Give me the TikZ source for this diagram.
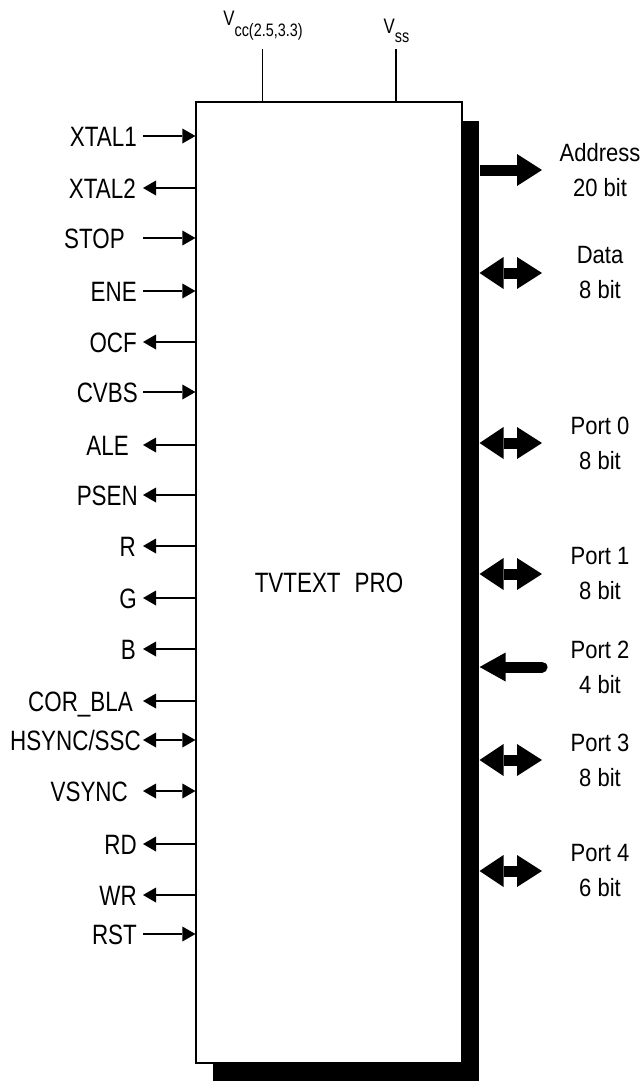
\documentclass[tikz,border=0pt]{standalone}
\usepackage{fontspec}
\setmainfont{Liberation Sans}[FakeStretch=0.8]
\newfontfamily\busfamily{Liberation Sans}[FakeStretch=0.88]
\usepackage{tikz}
\usetikzlibrary{arrows.meta,positioning,shadows}
\newcommand{\pinfont}{\fontsize{28}{30}\selectfont}
\newcommand{\busfont}{\busfamily\fontsize{25}{35}\selectfont}
\newcommand{\vfont}{\fontsize{21}{22}\selectfont}
\newcommand{\vsubfont}{\fontsize{18}{20}\selectfont}

\begin{document}
\begin{tikzpicture}[x=1pt, y=-1pt,
    pin/.style={line width=1.6pt},
    pinin/.style={pin, -{Triangle[length=13pt,width=15pt,line width=0pt]}},
    pinout/.style={pin, {Triangle[length=13pt,width=15pt,line width=0pt]}-},
    pinbi/.style={pin, {Triangle[length=13pt,width=15pt,line width=0pt]}-{Triangle[length=13pt,width=15pt,line width=0pt]}},
    pinlbl/.style={anchor=east, font=\pinfont, text height=20pt, text depth=0pt, inner ysep=0pt},
    bus/.style={line width=11pt},
    busout/.style={bus, -{Triangle[length=25pt,width=32pt,line width=0pt]}},
    busbi/.style={bus, {Triangle[length=24pt,width=32pt,line width=0pt]}-{Triangle[length=25pt,width=32pt,line width=0pt]}},
    busin/.style={bus, line cap=round, {Triangle[length=26pt,width=29pt,line width=0pt]}-},
    buslbl/.style={align=center, font=\busfont, inner sep=0pt}]
  \useasboundingbox (0,0) rectangle (643,1081);

  \node[draw, line width=1.2pt, fill=white, minimum width=266pt, minimum height=961pt,
    inner sep=0pt, font=\pinfont,
    drop shadow={shadow xshift=17pt, shadow yshift=-19pt, fill=black, opacity=1}]
    (chip) at (329,582.5) {TVTEXT\hspace{0.5em}PRO};
  \coordinate (bus) at ([xshift=17pt]chip.east);

  % supply pins
  \coordinate (vccpin) at (262.5,49);
  \coordinate (vsspin) at (396,49);
  \draw[line width=1.2pt] (vccpin) -- (vccpin |- chip.north);
  \draw[line width=1.2pt] (vsspin) -- (vsspin |- chip.north);
  \node[anchor=base, inner sep=0pt] (vcc) at (263,25.5) {\vfont V\raisebox{-11pt}{\vsubfont cc(2.5,3.3)}};
  \node[anchor=base, inner sep=0pt] (vss) at (396.5,33.5) {\vfont V\raisebox{-9pt}{\vsubfont ss}};

  % left pins
  \foreach \y/\txt/\kind/\gap [count=\i] in {
      136/XTAL1/pinin/6pt, 188/XTAL2/pinout/7pt, 238/STOP/pinin/18pt,
      291/ENE/pinin/6pt, 342/OCF/pinout/6pt, 392/CVBS/pinin/5pt,
      445/ALE/pinout/14pt, 495/PSEN/pinout/5pt, 546/R/pinout/7pt,
      598/G/pinout/6pt, 649/B/pinout/7pt, 701/COR\_BLA/pinout/10pt,
      740/{HSYNC/SSC}/pinbi/2pt, 791/VSYNC/pinbi/15pt, 844/RD/pinout/6pt,
      895/WR/pinout/6pt, 934/RST/pinin/6pt} {
    \node[pinlbl, inner xsep=\gap] (l\i) at (143,\y) {\txt};
    \draw[\kind] (l\i.east) -- (l\i.east -| chip.west);
  }

  % buses
  \foreach \y/\top/\bot/\kind [count=\i] in {
      170/Address/20 bit/busout, 273/Data/8 bit/busbi, 443/Port 0/8 bit/busbi,
      574/Port 1/8 bit/busbi, 667/Port 2/4 bit/busin, 760/Port 3/8 bit/busbi,
      871/Port 4/6 bit/busbi} {
    \node[buslbl] (b\i) at (600,\y) {\top\\\bot};
    \coordinate (e\i) at (542,\y);
    \draw[\kind] (bus |- e\i) -- (e\i);
  }
\end{tikzpicture}
\end{document}
